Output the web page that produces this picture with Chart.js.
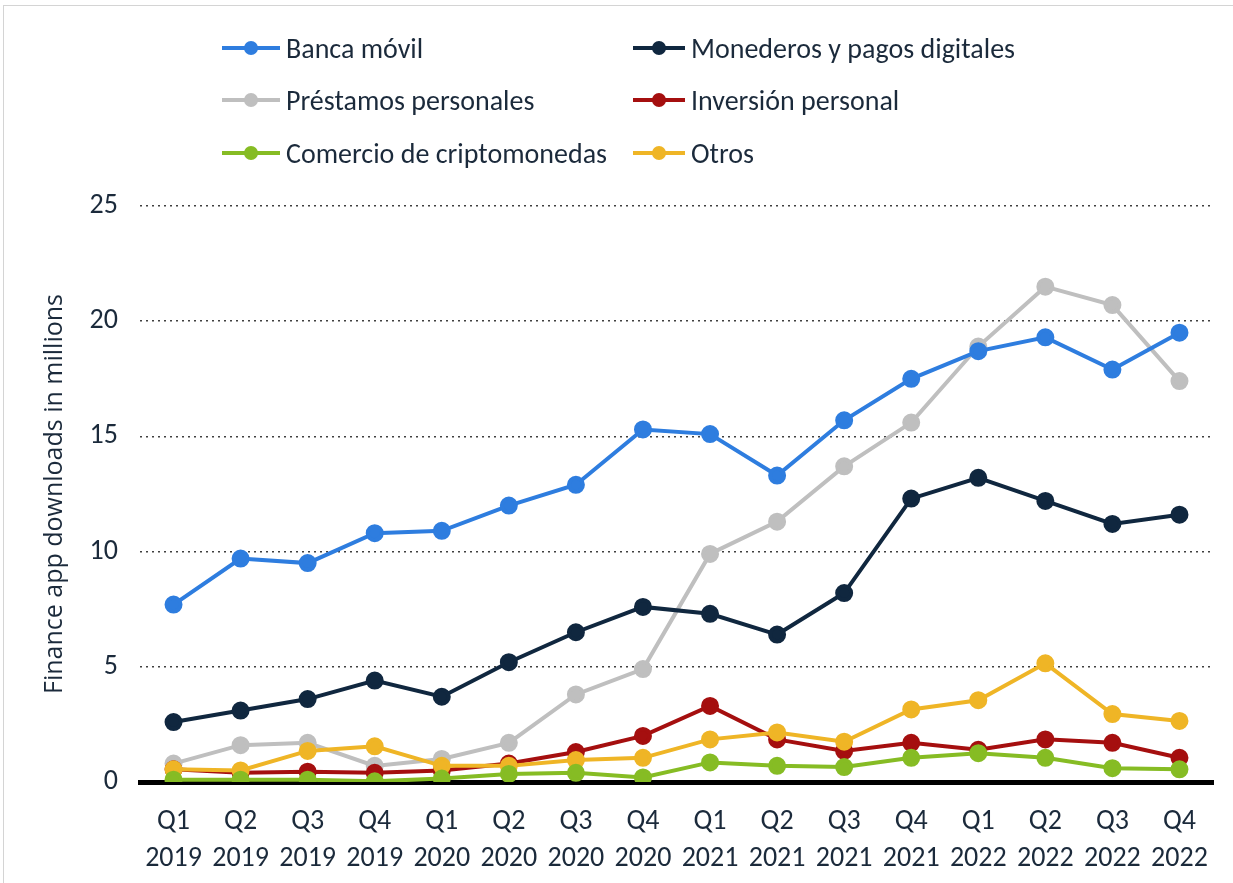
<!DOCTYPE html>
<html>
<head>
<meta charset="utf-8">
<script src="https://cdn.jsdelivr.net/npm/chart.js@4.4.1/dist/chart.umd.min.js"></script>
<style>
  html, body { margin: 0; padding: 0; background: #fff; }
  #wrap { position: relative; width: 1233px; height: 883px; overflow: hidden; }
  #frame { position: absolute; left: 3px; top: 5px; width: 1240px; height: 900px; border: 1px solid #d4d4d4; }
  #legend { position: absolute; left: 0; top: 0; font-family: Carlito, Lato, sans-serif; font-size: 28px; color: #1b2a3b; }
  .item { position: absolute; height: 30px; display: flex; align-items: center; white-space: nowrap; }
  .sym { position: relative; width: 58px; height: 30px; margin-right: 6px; }
  .sym .ln { position: absolute; left: 0; right: 0; top: 13px; height: 4px; }
  .sym .dt { position: absolute; left: calc(50% - 7px); top: 8px; width: 14px; height: 14px; border-radius: 50%; }
  canvas { position: absolute; left: 0; top: 0; }
</style>
</head>
<body>
<div id="wrap">
  <div id="frame"></div>
  <canvas id="lineChart" width="1233" height="883"></canvas>
  <div id="legend"></div>
</div>
<script>
const quarters = ['Q1','Q2','Q3','Q4','Q1','Q2','Q3','Q4','Q1','Q2','Q3','Q4','Q1','Q2','Q3','Q4'];
const years = ['2019','2019','2019','2019','2020','2020','2020','2020','2021','2021','2021','2021','2022','2022','2022','2022'];

const bancaMovil = [7.7, 9.7, 9.5, 10.8, 10.9, 12.0, 12.9, 15.3, 15.1, 13.3, 15.7, 17.5, 18.7, 19.3, 17.9, 19.5];
const monederos = [2.6, 3.1, 3.6, 4.4, 3.7, 5.2, 6.5, 7.6, 7.3, 6.4, 8.2, 12.3, 13.2, 12.2, 11.2, 11.6];
const prestamos = [0.8, 1.6, 1.7, 0.7, 1.0, 1.7, 3.8, 4.9, 9.9, 11.3, 13.7, 15.6, 18.9, 21.5, 20.7, 17.4];
const inversion = [0.55, 0.4, 0.45, 0.4, 0.5, 0.8, 1.3, 2.0, 3.3, 1.85, 1.35, 1.7, 1.4, 1.85, 1.7, 1.05];
const cripto = [0.1, 0.1, 0.1, 0.03, 0.15, 0.35, 0.4, 0.2, 0.85, 0.7, 0.65, 1.05, 1.25, 1.05, 0.6, 0.55];
const otros = [0.55, 0.5, 1.35, 1.55, 0.7, 0.7, 0.95, 1.05, 1.85, 2.15, 1.75, 3.15, 3.55, 5.15, 2.95, 2.65];

const yTicks = [0, 5, 10, 15, 20, 25];

const seriesNames = ['Banca móvil', 'Monederos y pagos digitales', 'Préstamos personales', 'Inversión personal', 'Comercio de criptomonedas', 'Otros'];
const seriesData = [bancaMovil, monederos, prestamos, inversion, cripto, otros];
const seriesColors = ['#2e7ddf', '#10273f', '#bfbfbf', '#a50f0f', '#86bc24', '#efb526'];

const labels = quarters.map((q, i) => [q, years[i]]);

// draw order: lower series on top like the original
const datasets = seriesNames.map((name, i) => ({
    label: name,
    data: seriesData[i],
    borderColor: seriesColors[i],
    backgroundColor: seriesColors[i],
    pointBackgroundColor: seriesColors[i],
    pointBorderColor: seriesColors[i],
    borderWidth: 4,
    pointRadius: 7,
    pointHoverRadius: 7,
    tension: 0,
    order: [3, 2, 4, 1, 0, 0.5][i]
}));

// html legend, two columns
const legendPos = [[222, 33, 58], [633, 33, 52], [222, 85, 58], [633, 85, 52], [222, 138, 58], [633, 138, 52]];
const legend = document.getElementById('legend');
seriesNames.forEach((name, i) => {
    const el = document.createElement('div');
    el.className = 'item';
    el.style.left = legendPos[i][0] + 'px';
    el.style.top = legendPos[i][1] + 'px';
    el.innerHTML = '<div class="sym" style="width:' + legendPos[i][2] + 'px"><div class="ln" style="background:' + seriesColors[i] + '"></div><div class="dt" style="background:' + seriesColors[i] + '"></div></div><span>' + name + '</span>';
    legend.appendChild(el);
});

const textColor = '#1b2a3b';

const config = {
    type: 'line',
    data: { labels: labels, datasets: datasets },
    options: {
        responsive: false,
        animation: false,
        layout: { padding: { top: 206, right: 20, left: 0, bottom: 0 } },
        plugins: {
            legend: { display: false },
            tooltip: { enabled: false }
        },
        scales: {
            x: {
                offset: true,
                grid: { display: false },
                border: { display: true, color: '#000', width: 5 },
                ticks: {
                    color: textColor,
                    font: { family: 'Carlito, Lato, sans-serif', size: 28, lineHeight: 1.3 },
                    padding: 14,
                    maxRotation: 0,
                    autoSkip: false
                },
                afterFit: (scale) => { scale.height = 101; }
            },
            y: {
                min: 0,
                max: 25,
                afterBuildTicks: (scale) => { scale.ticks = yTicks.map(v => ({ value: v })); },
                grid: { color: '#404040', lineWidth: 1.5, drawTicks: false },
                border: { display: false, dash: [2, 4] },
                ticks: {
                    color: textColor,
                    font: { family: 'Carlito, Lato, sans-serif', size: 28 },
                    padding: 22
                },
                title: {
                    display: true,
                    text: 'Finance app downloads in millions',
                    color: textColor,
                    font: { family: 'Open Sans, sans-serif', size: 25 },
                    padding: { top: 40, bottom: 0 }
                },
                afterFit: (scale) => { scale.width = 140; }
            }
        }
    }
};

new Chart(document.getElementById('lineChart'), config);
</script>
</body>
</html>
